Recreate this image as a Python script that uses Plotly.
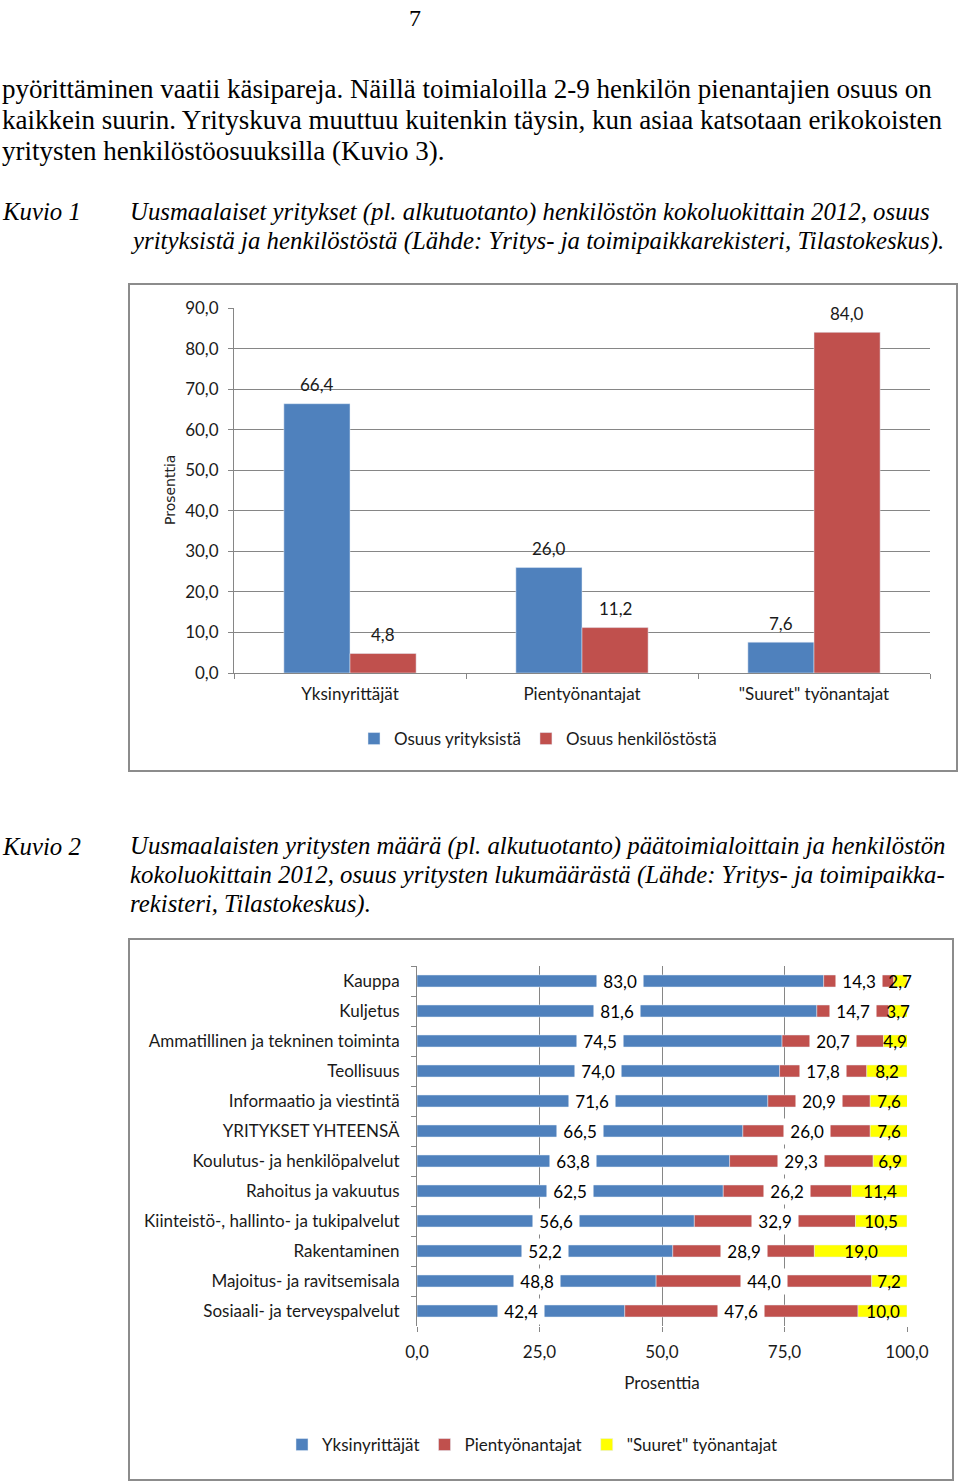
import plotly.graph_objects as go

W, H = 960, 1483

# ---------------- data ----------------
c1_categories = ["Yksinyrittäjät", "Pientyönantajat", "\"Suuret\" työnantajat"]
c1_osuus_yrityksista = [66.4, 26.0, 7.6]
c1_osuus_henkilostosta = [4.8, 11.2, 84.0]
c1_yticks = [0, 10, 20, 30, 40, 50, 60, 70, 80, 90]

c2_categories = [
    "Kauppa", "Kuljetus", "Ammatillinen ja tekninen toiminta", "Teollisuus",
    "Informaatio ja viestintä", "YRITYKSET YHTEENSÄ", "Koulutus- ja henkilöpalvelut",
    "Rahoitus ja vakuutus", "Kiinteistö-, hallinto- ja tukipalvelut", "Rakentaminen",
    "Majoitus- ja ravitsemisala", "Sosiaali- ja terveyspalvelut",
]
c2_yksinyrittajat = [83.0, 81.6, 74.5, 74.0, 71.6, 66.5, 63.8, 62.5, 56.6, 52.2, 48.8, 42.4]
c2_pientyonantajat = [14.3, 14.7, 20.7, 17.8, 20.9, 26.0, 29.3, 26.2, 32.9, 28.9, 44.0, 47.6]
c2_suuret = [2.7, 3.7, 4.9, 8.2, 7.6, 7.6, 6.9, 11.4, 10.5, 19.0, 7.2, 10.0]
c2_xticks = [0, 25, 50, 75, 100]

body_lines = [
    "pyörittäminen vaatii käsipareja. Näillä toimialoilla 2-9 henkilön pienantajien osuus on",
    "kaikkein suurin. Yrityskuva muuttuu kuitenkin täysin, kun asiaa katsotaan erikokoisten",
    "yritysten henkilöstöosuuksilla (Kuvio 3).",
]
cap1_label = "Kuvio 1"
cap1_lines = [
    "Uusmaalaiset yritykset (pl. alkutuotanto) henkilöstön kokoluokittain 2012, osuus",
    "yrityksistä ja henkilöstöstä (Lähde: Yritys- ja toimipaikkarekisteri, Tilastokeskus).",
]
cap2_label = "Kuvio 2"
cap2_lines = [
    "Uusmaalaisten yritysten määrä (pl. alkutuotanto) päätoimialoittain ja henkilöstön",
    "kokoluokittain 2012, osuus yritysten lukumäärästä (Lähde: Yritys- ja toimipaikka-",
    "rekisteri, Tilastokeskus).",
]

# ---------------- style ----------------
BLUE, RED, YELLOW = "#4F81BD", "#C0504D", "#FFFF00"
GRID = "#868686"
CF = "Lato, Open Sans, sans-serif"
SERIF = "Liberation Serif, Times New Roman, serif"
TXT = "#1a1a1a"
FS = 17
BODY = 27
CAP = 24.8


def px(x):
    return x / W


def py(y):
    return 1 - y / H


fig = go.Figure()

# ---- chart 1 ----
bw1 = 0.285
fig.add_trace(go.Bar(x=c1_categories, y=c1_osuus_yrityksista, name="Osuus yrityksistä",
                     marker_color=BLUE, width=bw1, offset=-bw1, xaxis="x", yaxis="y",
                     legend="legend"))
fig.add_trace(go.Bar(x=c1_categories, y=c1_osuus_henkilostosta, name="Osuus henkilöstöstä",
                     marker_color=RED, width=bw1, offset=0, xaxis="x", yaxis="y",
                     legend="legend"))

annotations = []
for i, v in enumerate(c1_osuus_yrityksista):
    annotations.append(dict(x=i - bw1 / 2, y=v, xref="x", yref="y", text=f"{v:.1f}".replace(".", ","),
                            showarrow=False, yshift=19, font=dict(family=CF, size=FS, color=TXT)))
for i, v in enumerate(c1_osuus_henkilostosta):
    annotations.append(dict(x=i + bw1 / 2, y=v, xref="x", yref="y", text=f"{v:.1f}".replace(".", ","),
                            showarrow=False, yshift=19, font=dict(family=CF, size=FS, color=TXT)))

# ---- chart 2 ----
bw2 = 0.4
base_red = [a for a in c2_yksinyrittajat]
base_yel = [a + b for a, b in zip(c2_yksinyrittajat, c2_pientyonantajat)]
fig.add_trace(go.Bar(y=c2_categories, x=c2_yksinyrittajat, orientation="h", name="Yksinyrittäjät",
                     marker_color=BLUE, width=bw2, offset=-bw2 / 2, base=[0] * len(c2_categories),
                     xaxis="x2", yaxis="y2", legend="legend2"))
fig.add_trace(go.Bar(y=c2_categories, x=c2_pientyonantajat, orientation="h", name="Pientyönantajat",
                     marker_color=RED, width=bw2, offset=-bw2 / 2, base=base_red,
                     xaxis="x2", yaxis="y2", legend="legend2"))
fig.add_trace(go.Bar(y=c2_categories, x=c2_suuret, orientation="h", name="\"Suuret\" työnantajat",
                     marker_color=YELLOW, width=bw2, offset=-bw2 / 2, base=base_yel,
                     xaxis="x2", yaxis="y2", legend="legend2"))

NB = "\u00a0"
for cat, a, b, c in zip(c2_categories, c2_yksinyrittajat, c2_pientyonantajat, c2_suuret):
    for start, val, bg in ((0, a, "white"), (a, b, "white"), (a + b, c, "rgba(0,0,0,0)")):
        annotations.append(dict(x=start + val / 2, y=cat, xref="x2", yref="y2",
                                text=NB + f"{val:.1f}".replace(".", ",") + NB,
                                showarrow=False, bgcolor=bg, borderpad=2,
                                font=dict(family=CF, size=FS, color="#000")))

# ---- page text ----
annotations.append(dict(x=px(415), y=py(3), xref="paper", yref="paper", text="7", showarrow=False,
                        xanchor="center", yanchor="top", font=dict(family=SERIF, size=24, color="#000")))
for i, line in enumerate(body_lines):
    annotations.append(dict(x=0, y=py(89 + 31 * i), xref="paper", yref="paper", text=line,
                            showarrow=False, xanchor="left", yanchor="middle",
                            font=dict(family=SERIF, size=BODY, color="#000")))
annotations.append(dict(x=0, y=py(212), xref="paper", yref="paper", text=f"<i>{cap1_label}</i>",
                        showarrow=False, xanchor="left", yanchor="middle",
                        font=dict(family=SERIF, size=CAP, color="#000")))
for i, line in enumerate(cap1_lines):
    annotations.append(dict(x=px(128), y=py(212 + 29 * i), xref="paper", yref="paper", text=f"<i>{line}</i>",
                            showarrow=False, xanchor="left", yanchor="middle",
                            font=dict(family=SERIF, size=CAP, color="#000")))
annotations.append(dict(x=0, y=py(846), xref="paper", yref="paper", text=f"<i>{cap2_label}</i>",
                        showarrow=False, xanchor="left", yanchor="middle",
                        font=dict(family=SERIF, size=CAP, color="#000")))
for i, line in enumerate(cap2_lines):
    annotations.append(dict(x=px(128), y=py(846 + 29 * i), xref="paper", yref="paper", text=f"<i>{line}</i>",
                            showarrow=False, xanchor="left", yanchor="middle",
                            font=dict(family=SERIF, size=CAP, color="#000")))

# chart 1 y title
annotations.append(dict(x=px(170), y=py(490), xref="paper", yref="paper", text="Prosenttia",
                        textangle=-90, showarrow=False, xanchor="center", yanchor="middle",
                        font=dict(family="DejaVu Sans, Verdana, sans-serif", size=14, color="#222")))

shapes = [
    dict(type="rect", xref="paper", yref="paper", x0=px(129), x1=px(957), y0=py(284), y1=py(771),
         line=dict(color="#8c8c8c", width=2), fillcolor="rgba(0,0,0,0)"),
    dict(type="rect", xref="paper", yref="paper", x0=px(129), x1=px(953), y0=py(939), y1=py(1480),
         line=dict(color="#8c8c8c", width=2), fillcolor="rgba(0,0,0,0)"),
]

fig.update_layout(
    width=W, height=H, margin=dict(l=0, r=0, t=0, b=0, pad=0, autoexpand=False),
    paper_bgcolor="white", plot_bgcolor="white",
    barmode="overlay", separators=", ",
    annotations=annotations, shapes=shapes,
    xaxis=dict(domain=[px(234), px(930)], anchor="y", type="category", tickson="boundaries",
               ticks="outside", ticklen=5, tickcolor=GRID, showline=True, linecolor=GRID,
               showgrid=False, tickfont=dict(family=CF, size=FS, color=TXT), ticklabelstandoff=6),
    yaxis=dict(domain=[py(673), py(308)], anchor="x", range=[0, 90], tickvals=c1_yticks,
               tickformat=".1f", ticks="outside", ticklen=5, tickcolor=GRID, showline=True,
               linecolor=GRID, showgrid=True, gridcolor=GRID, gridwidth=1, zeroline=False,
               tickfont=dict(family=CF, size=FS, color=TXT), ticklabelstandoff=6),
    xaxis2=dict(domain=[px(417), px(907)], anchor="y2", range=[0, 100], tickvals=c2_xticks,
                tickformat=".1f", ticks="outside", ticklen=5, tickcolor=GRID, showline=False,
                showgrid=True, gridcolor=GRID, gridwidth=1, zeroline=False,
                tickfont=dict(family=CF, size=FS, color=TXT), ticklabelstandoff=6,
                title=dict(text="Prosenttia", font=dict(family=CF, size=FS, color=TXT), standoff=15)),
    yaxis2=dict(domain=[py(1326), py(966)], anchor="x2", type="category", autorange="reversed",
                tickson="boundaries", ticks="outside", ticklen=5, tickcolor=GRID, showline=True,
                linecolor=GRID, showgrid=False, tickfont=dict(family=CF, size=FS, color=TXT),
                ticklabelstandoff=13),
    legend=dict(orientation="h", x=px(354), y=py(739), xanchor="left", yanchor="middle",
                font=dict(family=CF, size=FS, color=TXT), bgcolor="rgba(0,0,0,0)", itemwidth=30),
    legend2=dict(orientation="h", x=px(282), y=py(1445), xanchor="left", yanchor="middle",
                 font=dict(family=CF, size=FS, color=TXT), bgcolor="rgba(0,0,0,0)", itemwidth=30),
)

fig.write_html(
    "out.html",
    config={"displayModeBar": False},
    post_script="document.body.style.margin='0';document.body.style.overflow='hidden';",
)
